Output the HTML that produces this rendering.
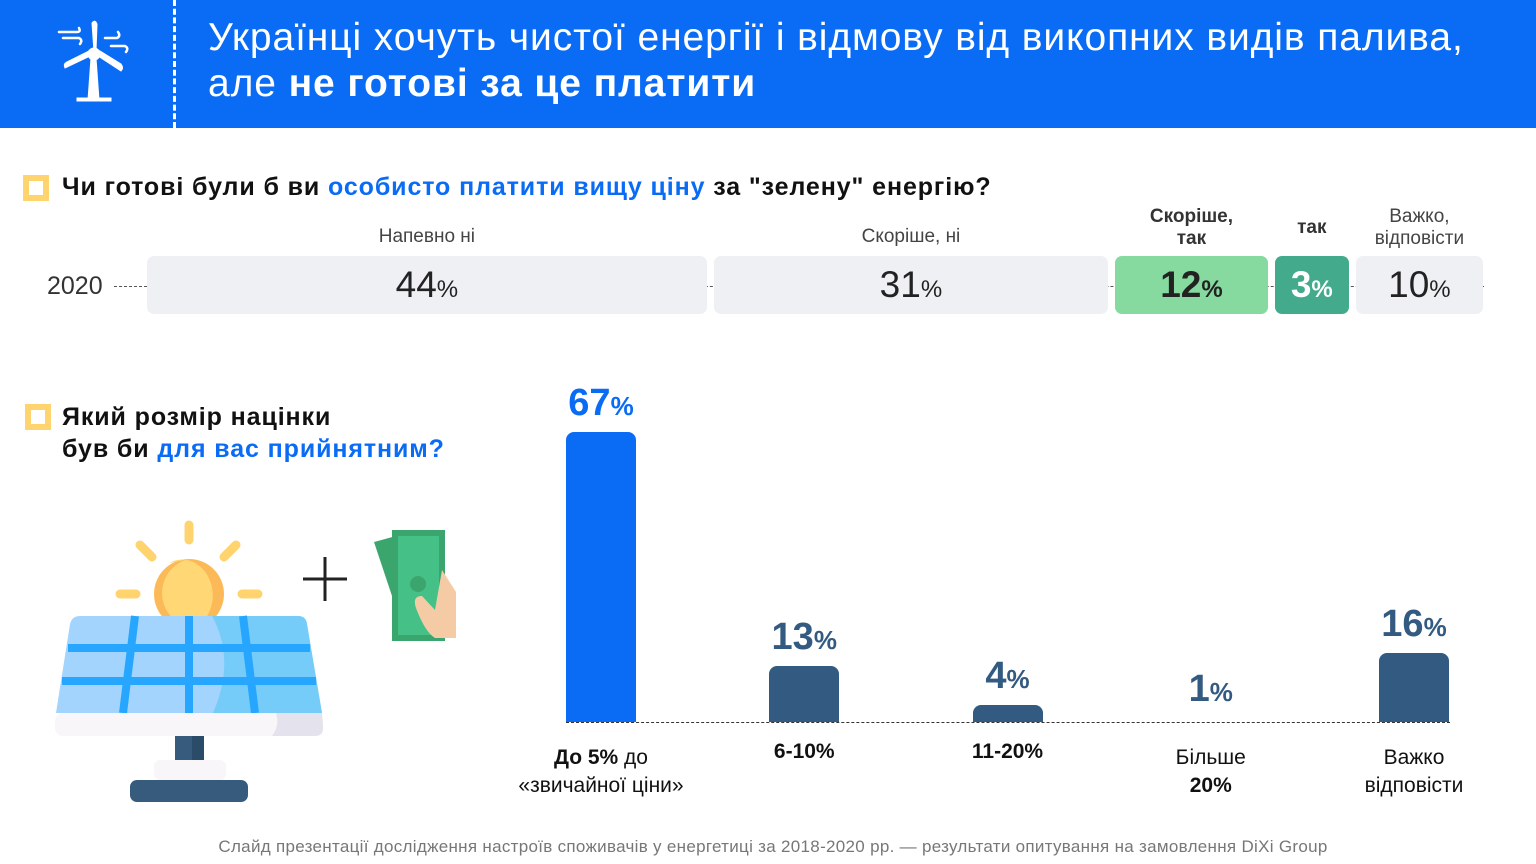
<!DOCTYPE html>
<html><head><meta charset="utf-8">
<style>
*{margin:0;padding:0;box-sizing:border-box}
body{width:1536px;height:864px;background:#fff;font-family:"Liberation Sans","DejaVu Sans",sans-serif;position:relative;overflow:hidden;color:#222}
.abs{position:absolute}
#hdr{left:0;top:0;width:1536px;height:128px;background:#0a6cf5}
#title{left:208px;top:15px;color:#fff;font-size:39px;line-height:46px;letter-spacing:0.9px}
.q{font-size:25px;font-weight:bold;color:#111;letter-spacing:0.9px}
.q .b{color:#0a6cf5}
.sq{width:26px;height:26px;border:6px solid #ffd36e;background:#fff}
.lbl{font-size:19px;color:#444;text-align:center;line-height:22px}
.seg{position:absolute;top:256px;height:58px;border-radius:7px;text-align:center;line-height:58px;font-size:37px;color:#222}
.seg small{font-size:24px}
.val{position:absolute;text-align:center;font-size:38px;font-weight:bold;color:#335a80;width:160px}
.val small{font-size:26px}
.cat{position:absolute;text-align:center;font-size:21px;width:240px;line-height:28px;color:#111}
</style></head><body>
<div class="abs" id="hdr"></div>
<svg class="abs" style="left:55px;top:18px" width="80" height="86" viewBox="0 0 80 86">
<g fill="#fff" stroke="#fff"><path d="M36 40 L33 82 L44 82 L41 40Z"/><rect x="22" y="80" width="34" height="3"/>
<circle cx="39" cy="36" r="6"/><path d="M39 34 L37 5 Q40 1 42 6 L41 33Z"/><path d="M35 38 L10 50 Q8 46 12 44 L34 33Z"/><path d="M43 38 L66 53 Q69 50 66 46 L45 33Z"/></g>
<g fill="none" stroke="#fff" stroke-width="2.5" stroke-linecap="round"><path d="M4 14 H22 Q26 14 24 10"/><path d="M8 20 H24 Q28 22 25 26"/><path d="M50 20 H62 Q66 18 63 14"/><path d="M56 28 H70 Q74 30 71 34"/></g>
</svg>
<div class="abs" style="left:173px;top:0;height:128px;border-left:3px dashed #fff"></div>
<div class="abs" id="title">Українці хочуть чистої енергії і відмову від викопних видів палива,<br>але <b>не готові за це платити</b></div>

<div class="abs sq" style="left:23px;top:175px"></div>
<div class="abs q" style="left:62px;top:173px">Чи готові були б ви <span class="b">особисто платити вищу ціну</span> за "зелену" енергію?</div>
<div class="abs" style="left:47px;top:272px;font-size:25px;color:#333">2020</div>
<div class="abs" style="left:114px;top:286px;width:1370px;border-top:1.5px dashed #555"></div>
<div id="stack"></div>

<div class="abs sq" style="left:25px;top:404px"></div>
<div class="abs q" style="left:62px;top:401px;line-height:32px">Який розмір націнки<br>був би <span class="b">для вас прийнятним?</span></div>

<svg class="abs" style="left:40px;top:500px" width="440" height="320" viewBox="0 0 440 320">
<g stroke="#ffd36e" stroke-width="9" stroke-linecap="round"><line x1="149" y1="25" x2="149" y2="40"/><line x1="100" y1="45" x2="112" y2="57"/><line x1="196" y1="45" x2="184" y2="57"/><line x1="80" y1="94" x2="96" y2="94"/><line x1="202" y1="94" x2="218" y2="94"/></g>
<circle cx="149" cy="94" r="35" fill="#fcb958"/><path d="M149 59 A35 35 0 0 0 155 128 A30 35 0 0 0 129 63Z" fill="#ffd774"/>
<path d="M40 116 H258 Q266 116 267 124 L282 213 H16 L30 124 Q32 116 40 116Z" fill="#a3d4fd"/>
<path d="M172 116 H258 Q266 116 267 124 L282 213 H173 Q196 160 172 116Z" fill="#76ccf8"/>
<g stroke="#26a6fe" stroke-width="8" fill="none"><line x1="28" y1="148" x2="270" y2="148"/><line x1="22" y1="181" x2="276" y2="181"/><line x1="95" y1="116" x2="83" y2="213"/><line x1="149" y1="116" x2="149" y2="213"/><line x1="203" y1="116" x2="215" y2="213"/></g>
<rect x="15" y="213" width="268" height="23" rx="8" fill="#f8f6f8"/><path d="M236 213 H282 L283 228 Q283 236 275 236 H232 Q240 226 236 213Z" fill="#e4e2ec"/>
<rect x="135" y="236" width="29" height="24" fill="#365b7c"/><rect x="152" y="236" width="12" height="24" fill="#2b4c68"/>
<rect x="114" y="260" width="72" height="20" rx="6" fill="#f8f6f8"/>
<rect x="90" y="280" width="118" height="22" rx="7" fill="#365b7c"/>
<g stroke="#222" stroke-width="3"><line x1="263" y1="79" x2="307" y2="79"/><line x1="285" y1="57" x2="285" y2="101"/></g>
<path d="M334 42 L356 36 L386 125 L364 132Z" fill="#3ba56e"/>
<rect x="355" y="33" width="47" height="105" fill="#45c188"/><rect x="355" y="33" width="47" height="105" fill="none" stroke="#3ba56e" stroke-width="6"/>
<circle cx="378" cy="84" r="8" fill="#3ba56e"/>
<path d="M402 70 L416 92 V138 H395 Q385 132 376 108 Q372 96 382 96 L395 110Z" fill="#f5cba6"/>
</svg>

<div class="abs" style="left:566px;top:722px;width:884px;border-top:1.5px dashed #333"></div>
<div id="bars"></div>

<div class="abs" style="left:0;top:837px;width:1536px;text-align:center;font-size:17px;color:#777;letter-spacing:0.3px;padding-left:10px">Слайд презентації дослідження настроїв споживачів у енергетиці за 2018-2020 рр. — результати опитування на замовлення DiXi Group</div>

<script>
const segLabels=['Напевно ні','Скоріше, ні','Скоріше,<br>так','так','Важко,<br>відповісти'];
const segValues=[44,31,12,3,10];
const segColors=['#eef0f3','#eef0f3','#86d99f','#43aa8b','#eef0f3'];
const barCats=['<b>До 5%</b> до<br>«звичайної ціни»','<b>6-10%</b>','<b>11-20%</b>','Більше<br><b>20%</b>','Важко<br>відповісти'];
const barValues=[67,13,4,1,16];

(function(){
  const st=document.getElementById('stack');
  const x0=147,total=1336,gap=7,minW=74;
  let fixed=0,rest=0;segValues.forEach(v=>{const w0=v/100*(total-gap*4);if(w0<minW)fixed+=minW;else rest+=v;});
  const k=(total-gap*4-fixed)/rest;
  let x=x0;
  segValues.forEach((v,i)=>{
    const w0=v/100*(total-gap*4);const w=w0<minW?minW:v*k;
    const d=document.createElement('div');d.className='seg';
    
    
    d.style.left=x+'px';d.style.width=w+'px';d.style.background=segColors[i];
    if(i==3){d.style.color='#fff';}
    if(i>=2&&i<=3)d.style.fontWeight='bold';
    d.innerHTML=v+'<small>%</small>';st.appendChild(d);
    const l=document.createElement('div');l.className='lbl abs';
    
    
    const two=segLabels[i].includes('<br>');
    l.style.left=(x+w/2-100)+'px';l.style.width='200px';l.style.top=(two?206:226)+'px';
    if(i==2||i==3){l.style.fontWeight='bold';l.style.color='#333';}
    if(i==3)l.style.top='217px';
    l.innerHTML=segLabels[i];st.appendChild(l);
    x+=w+gap;
  });
  const bs=document.getElementById('bars');
  const centers0=601,step=203.25,base=722,sc=4.33;
  barValues.forEach((v,i)=>{
    const cx=centers0+i*step;
    const h=v<2?0:v*sc;
    const b=document.createElement('div');b.className='abs';
    
    
    b.style.cssText=`left:${cx-35}px;top:${base-h}px;width:70px;height:${h}px;background:${i==0?'#0a6cf5':'#335a80'};border-radius:${Math.min(8,h/2)}px ${Math.min(8,h/2)}px 0 0`;
    bs.appendChild(b);
    const t=document.createElement('div');t.className='val';
    
    
    t.style.left=(cx-80)+'px';t.style.top=(base-Math.max(h,v*sc)-50)+'px';
    if(i==0)t.style.color='#0a6cf5';
    t.innerHTML=v+'<small>%</small>';bs.appendChild(t);
    const c=document.createElement('div');c.className='cat';
    
    
    c.style.left=(cx-120)+'px';c.style.top=(barCats[i].includes('<br>')?744:738)+'px';
    c.innerHTML=barCats[i];bs.appendChild(c);
  });
})();
</script>
</body></html>
